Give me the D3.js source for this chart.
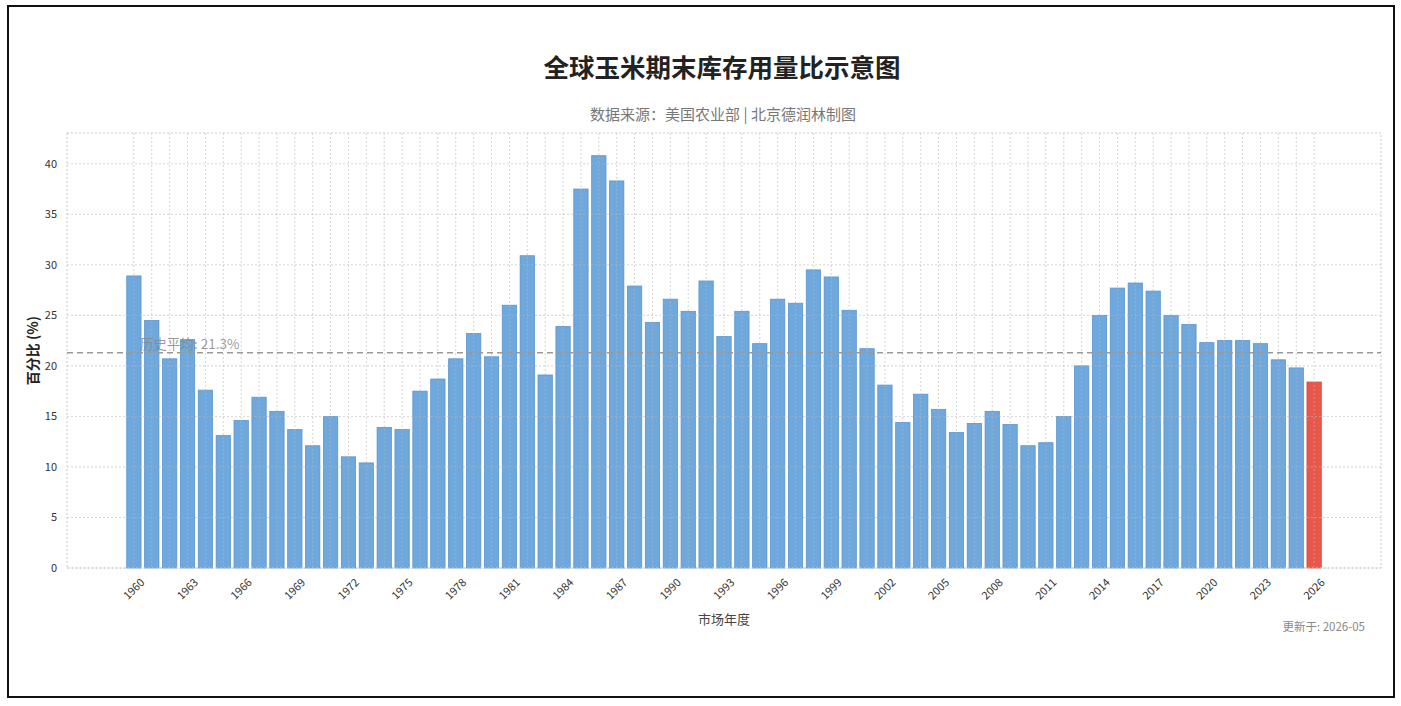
<!DOCTYPE html>
<html>
<head>
<meta charset="utf-8">
<script src="https://cdn.jsdelivr.net/npm/d3@7"></script>
<style>
  html, body { margin: 0; padding: 0; background: #fff; }
  svg { display: block; font-family: "Noto Sans CJK SC", "Noto Sans", sans-serif; }
</style>
</head>
<body>
<svg id="chart" width="1401" height="706"></svg>
<script>
// 市场年度
let years = d3.range(1960, 2027)

// 期末库存用量比 (%)
let ratios = [
  28.9, 24.5, 20.7, 22.6, 17.6, 13.1, 14.6, 16.9, 15.5, 13.7,
  12.1, 15.0, 11.0, 10.4, 13.9, 13.7, 17.5, 18.7, 20.7, 23.2,
  20.9, 26.0, 30.9, 19.1, 23.9, 37.5, 40.8, 38.3, 27.9, 24.3,
  26.6, 25.4, 28.4, 22.9, 25.4, 22.2, 26.6, 26.2, 29.5, 28.8,
  25.5, 21.7, 18.1, 14.4, 17.2, 15.7, 13.4, 14.3, 15.5, 14.2,
  12.1, 12.4, 15.0, 20.0, 25.0, 27.7, 28.2, 27.4, 25.0, 24.1,
  22.3, 22.5, 22.5, 22.2, 20.6, 19.8, 18.4
]

let yTicks = [0, 5, 10, 15, 20, 25, 30, 35, 40]
let xTickYears = d3.range(1960, 2027, 3)
let avgValue = 21.3
let forecastYear = 2026

let svg = d3.select('#chart')

let plotLeft = 67, plotRight = 1381, plotTop = 133, plotBottom = 568

// matplotlib style limits: bar width 0.8 plus 5% margin
let x0 = years[0] - 0.4, x1 = years[years.length - 1] + 0.4
let pad = (x1 - x0) * 0.05
let x = d3.scaleLinear().domain([x0 - pad, x1 + pad]).range([plotLeft, plotRight])
let y = d3.scaleLinear().domain([0, d3.max(ratios) * 1.055]).range([plotBottom, plotTop])
let barW = x(0.8) - x(0)

// outer frame
svg.append('rect')
  .attr('x', 8).attr('y', 6).attr('width', 1386).attr('height', 691)
  .attr('fill', '#fff').attr('stroke', '#111').attr('stroke-width', 2)

// title
svg.append('text')
  .attr('x', 722).attr('y', 77)
  .attr('text-anchor', 'middle')
  .attr('font-size', 25.5).attr('font-weight', 'bold').attr('fill', '#222')
  .text('全球玉米期末库存用量比示意图')

svg.append('text')
  .attr('x', 723).attr('y', 120)
  .attr('text-anchor', 'middle')
  .attr('font-size', 15).attr('fill', '#777')
  .text('数据来源：美国农业部 | 北京德润林制图')

// bars
svg.append('g')
  .selectAll('rect')
  .data(years)
  .enter()
  .append('rect')
  .attr('x', (d) => x(d) - barW / 2)
  .attr('width', barW)
  .attr('y', (d, i) => y(ratios[i]))
  .attr('height', (d, i) => y(0) - y(ratios[i]))
  .attr('fill', (d) => d === forecastYear ? '#e8574a' : '#6fa8dc')
  .attr('stroke', (d) => d === forecastYear ? '#d9453a' : '#5b95cf')
  .attr('stroke-width', 0.8)

// grid (on top, light)
let grid = svg.append('g')
  .attr('stroke', '#b8b8b8').attr('stroke-opacity', 0.6)
  .attr('stroke-width', 1).attr('stroke-dasharray', '2,2')

grid.selectAll('line.h')
  .data(yTicks)
  .enter()
  .append('line')
  .attr('class', 'h')
  .attr('x1', plotLeft).attr('x2', plotRight)
  .attr('y1', (d) => y(d)).attr('y2', (d) => y(d))

grid.selectAll('line.v')
  .data(years)
  .enter()
  .append('line')
  .attr('class', 'v')
  .attr('x1', (d) => x(d)).attr('x2', (d) => x(d))
  .attr('y1', plotTop).attr('y2', plotBottom)

// frame of plot area
svg.append('rect')
  .attr('x', plotLeft).attr('y', plotTop)
  .attr('width', plotRight - plotLeft).attr('height', plotBottom - plotTop)
  .attr('fill', 'none')
  .attr('stroke', '#c8c8c8').attr('stroke-dasharray', '2,2')

// average line
svg.append('line')
  .attr('x1', plotLeft).attr('x2', plotRight)
  .attr('y1', y(avgValue)).attr('y2', y(avgValue))
  .attr('stroke', '#999').attr('stroke-width', 1.5)
  .attr('stroke-dasharray', '6,4')

svg.append('text')
  .attr('x', x(1960) + 6).attr('y', y(avgValue) - 4)
  .attr('font-size', 13.5).attr('fill', '#888').attr('fill-opacity', 0.85)
  .text('历史平均: ' + avgValue + '%')

// y axis labels
svg.append('g')
  .selectAll('text')
  .data(yTicks)
  .enter()
  .append('text')
  .attr('x', plotLeft - 10)
  .attr('y', (d) => y(d))
  .attr('dy', '0.35em')
  .attr('text-anchor', 'end')
  .attr('font-size', 11).attr('fill', '#333')
  .text((d) => d)

svg.append('text')
  .attr('transform', 'translate(33,' + ((plotTop + plotBottom) / 2) + ') rotate(-90)')
  .attr('text-anchor', 'middle')
  .attr('dy', '0.35em')
  .attr('font-size', 14).attr('font-weight', 'bold').attr('fill', '#222')
  .text('百分比 (%)')

// x axis labels
svg.append('g')
  .selectAll('text')
  .data(xTickYears)
  .enter()
  .append('text')
  .attr('transform', (d) => 'translate(' + x(d) + ',' + (plotBottom + 21) + ') rotate(-45)')
  .attr('text-anchor', 'middle')
  .attr('dy', '0.35em')
  .attr('font-size', 11).attr('fill', '#333')
  .text((d) => d)

svg.append('text')
  .attr('x', (plotLeft + plotRight) / 2).attr('y', 624)
  .attr('text-anchor', 'middle')
  .attr('font-size', 13).attr('fill', '#444')
  .text('市场年度')

svg.append('text')
  .attr('x', 1365).attr('y', 631)
  .attr('text-anchor', 'end')
  .attr('font-size', 11.5).attr('fill', '#888')
  .text('更新于: 2026-05')
</script>
</body>
</html>
